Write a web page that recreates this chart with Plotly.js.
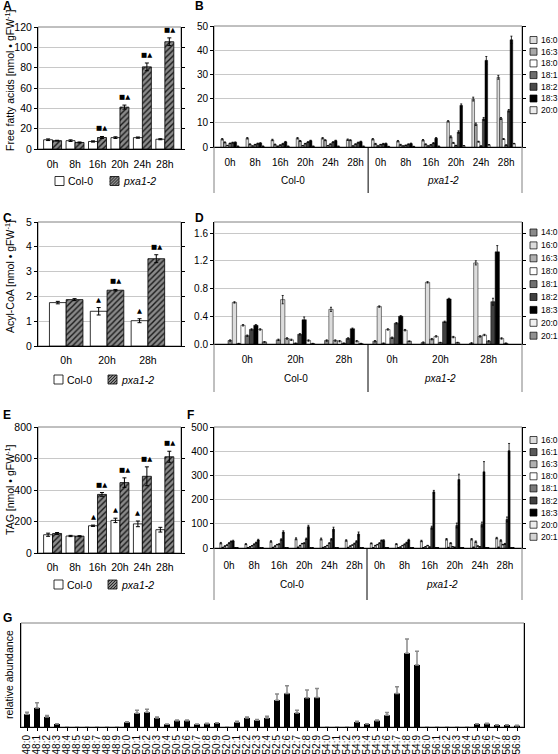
<!DOCTYPE html>
<html><head><meta charset="utf-8">
<script src="https://cdn.plot.ly/plotly-3.0.1.min.js"></script>
<style>html,body{margin:0;padding:0;background:#fff}#chart{width:558px;height:754px}</style>
</head><body><div id="chart"></div>
<script>
// ================= DATA =================
// Panel A: free fatty acids [nmol gFW-1]
const ffaTimes = ['0h', '8h', '16h', '20h', '24h', '28h'];
const ffaCol0 = [9.1, 8.2, 7.4, 11.2, 11.2, 9.6];
const ffaCol0Err = [0.8, 0.8, 0.6, 0.8, 0.6, 0.5];
const ffaPxa = [8.2, 6.4, 11.3, 41.2, 80.8, 105.5];
const ffaPxaErr = [0.4, 0.5, 1.0, 2.0, 3.8, 3.8];
const ffaCol0Sig = ['', '', '', '', '', ''];
const ffaPxaSig = ['', '', '■▲', '■▲', '■▲', '■▲'];

// Panel B: free fatty acid species
const genotypes = ['Col-0', 'pxa1-2'];
const ffaSpeciesTicks = ['0h', '8h', '16h', '20h', '24h', '28h', '0h', '8h', '16h', '20h', '24h', '28h'];
const ffaSpeciesNames = ['16:0', '16:3', '18:0', '18:1', '18:2', '18:3', '20:0'];
const ffaS16_0 = [3.2, 3.6, 2.9, 3.6, 3.6, 3.0, 3.2, 2.4, 2.8, 10.6, 19.8, 28.8];
const ffaS16_3 = [1.9, 1.1, 1.0, 2.5, 2.8, 2.8, 1.3, 0.9, 1.1, 4.2, 9.4, 11.8];
const ffaS18_0 = [0.6, 0.4, 0.3, 0.5, 0.5, 0.4, 0.4, 0.4, 0.4, 1.7, 2.2, 3.3];
const ffaS18_1 = [1.5, 1.0, 0.8, 1.4, 1.2, 1.2, 1.0, 0.7, 0.9, 0.6, 0.4, 0.8];
const ffaS18_2 = [1.8, 1.4, 1.3, 2.0, 2.0, 1.8, 1.3, 1.1, 1.6, 6.2, 11.6, 15.0];
const ffaS18_3 = [1.9, 1.6, 2.1, 2.6, 2.6, 2.2, 1.4, 1.4, 3.6, 17.2, 35.8, 44.3];
const ffaS20_0 = [0.3, 0.3, 0.3, 0.3, 0.3, 0.3, 0.2, 0.2, 0.3, 0.5, 0.9, 1.4];
const ffaS16_0Err = [0.3, 0.3, 0.3, 0.3, 0.3, 0.3, 0.3, 0.3, 0.3, 0.3, 0.8, 0.8];
const ffaS16_3Err = [0.2, 0.2, 0.2, 0.2, 0.2, 0.2, 0.2, 0.2, 0.2, 0.4, 0.5, 0.4];
const ffaS18_0Err = [0.1, 0.1, 0.1, 0.1, 0.1, 0.1, 0.1, 0.1, 0.1, 0.2, 0.2, 0.2];
const ffaS18_1Err = [0.1, 0.1, 0.1, 0.1, 0.1, 0.1, 0.1, 0.1, 0.1, 0.1, 0.1, 0.1];
const ffaS18_2Err = [0.2, 0.2, 0.2, 0.2, 0.2, 0.2, 0.2, 0.2, 0.2, 0.5, 0.6, 0.5];
const ffaS18_3Err = [0.2, 0.2, 0.2, 0.2, 0.2, 0.2, 0.2, 0.2, 0.3, 0.6, 1.6, 1.5];
const ffaS20_0Err = [0.1, 0.1, 0.1, 0.1, 0.1, 0.1, 0.1, 0.1, 0.1, 0.1, 0.1, 0.1];

// Panel C: acyl-CoA [nmol gFW-1]
const coaTimes = ['0h', '20h', '28h'];
const coaCol0 = [1.75, 1.40, 1.02];
const coaCol0Err = [0.05, 0.15, 0.08];
const coaPxa = [1.87, 2.25, 3.52];
const coaPxaErr = [0.04, 0.03, 0.16];
const coaCol0Sig = ['', '▲', '▲'];
const coaPxaSig = ['', '■▲', '■▲'];

// Panel D: acyl-CoA species
const coaSpeciesTicks = ['0h', '20h', '28h', '0h', '20h', '28h'];
const coaSpeciesNames = ['14:0', '16:0', '16:3', '18:0', '18:1', '18:2', '18:3', '20:0', '20:1'];
const coa14_0 = [0.05, 0.06, 0.05, 0.04, 0.02, 0.01];
const coa16_0 = [0.60, 0.64, 0.50, 0.54, 0.89, 1.17];
const coa16_3 = [0.005, 0.08, 0.05, 0.01, 0.07, 0.11];
const coa18_0 = [0.27, 0.06, 0.04, 0.21, 0.11, 0.13];
const coa18_1 = [0.12, 0.01, 0.01, 0.09, 0.02, 0.04];
const coa18_2 = [0.21, 0.14, 0.08, 0.30, 0.32, 0.61];
const coa18_3 = [0.27, 0.35, 0.22, 0.40, 0.65, 1.33];
const coa20_0 = [0.21, 0.05, 0.04, 0.20, 0.10, 0.08];
const coa20_1 = [0.03, 0.005, 0.005, 0.04, 0.02, 0.01];
const coa14_0Err = [0.01, 0.01, 0.01, 0.01, 0.01, 0.01];
const coa16_0Err = [0.01, 0.06, 0.03, 0.01, 0.01, 0.03];
const coa16_3Err = [0.005, 0.01, 0.01, 0.005, 0.01, 0.01];
const coa18_0Err = [0.01, 0.01, 0.01, 0.01, 0.01, 0.01];
const coa18_1Err = [0.01, 0.005, 0.005, 0.01, 0.005, 0.01];
const coa18_2Err = [0.01, 0.01, 0.01, 0.01, 0.01, 0.05];
const coa18_3Err = [0.01, 0.04, 0.01, 0.01, 0.01, 0.09];
const coa20_0Err = [0.01, 0.01, 0.01, 0.01, 0.01, 0.01];
const coa20_1Err = [0.005, 0.005, 0.005, 0.005, 0.005, 0.005];

// Panel E: TAG [nmol gFW-1]
const tagTimes = ['0h', '8h', '16h', '20h', '24h', '28h'];
const tagCol0 = [116, 108, 173, 207, 185, 148];
const tagCol0Err = [10, 4, 4, 14, 18, 15];
const tagPxa = [124, 107, 372, 447, 487, 611];
const tagPxaErr = [6, 3, 12, 30, 60, 35];
const tagCol0Sig = ['', '', '▲', '▲', '▲', ''];
const tagPxaSig = ['', '', '■▲', '■▲', '■▲', '■▲'];

// Panel F: TAG fatty acid species
const tagSpeciesTicks = ['0h', '8h', '16h', '20h', '24h', '28h', '0h', '8h', '16h', '20h', '24h', '28h'];
const tagSpeciesNames = ['16:0', '16:1', '16:3', '18:0', '18:1', '18:2', '18:3', '20:0', '20:1'];
const tag16_0 = [20, 16, 27, 38, 37, 31, 19, 16, 29, 36, 36, 41];
const tag16_1 = [2, 1, 2, 3, 2, 2, 1, 1, 1, 2, 3, 3];
const tag16_3 = [8, 5, 8, 10, 5, 8, 10, 4, 5, 20, 26, 31];
const tag18_0 = [12, 9, 14, 18, 10, 12, 14, 10, 10, 5, 8, 14];
const tag18_1 = [20, 15, 16, 20, 20, 18, 20, 15, 4, 3, 5, 17];
const tag18_2 = [27, 22, 35, 38, 36, 27, 31, 22, 84, 93, 97, 118];
const tag18_3 = [29, 33, 66, 88, 78, 58, 31, 33, 232, 283, 315, 402];
const tag20_0 = [1, 1, 1, 1, 1, 1, 1, 1, 1, 1, 1, 1];
const tag20_1 = [1, 1, 1, 1, 1, 1, 1, 1, 1, 1, 1, 1];
const tag16_0Err = [3, 2, 3, 4, 4, 3, 2, 2, 3, 3, 3, 3];
const tag16_1Err = [1, 1, 1, 1, 1, 1, 1, 1, 1, 1, 1, 1];
const tag16_3Err = [1, 1, 1, 1, 1, 1, 1, 1, 1, 2, 3, 3];
const tag18_0Err = [1, 1, 1, 1, 1, 1, 1, 1, 1, 1, 1, 1];
const tag18_1Err = [2, 2, 2, 2, 2, 2, 2, 2, 1, 1, 1, 2];
const tag18_2Err = [2, 2, 3, 3, 3, 3, 2, 2, 6, 10, 10, 10];
const tag18_3Err = [3, 3, 5, 6, 8, 8, 3, 3, 6, 22, 42, 30];
const tag20_0Err = [1, 1, 1, 1, 1, 1, 1, 1, 1, 1, 1, 1];
const tag20_1Err = [1, 1, 1, 1, 1, 1, 1, 1, 1, 1, 1, 1];

// Panel G: TAG molecular species, relative abundance
const tagMolLabels = ['48:0', '48:1', '48:2', '48:3', '48:4', '48:5', '48:6', '48:7', '48:8', '48:9',
  '50:0', '50:1', '50:2', '50:3', '50:4', '50:5', '50:6', '50:7', '50:8', '50:9',
  '52:0', '52:1', '52:2', '52:3', '52:4', '52:5', '52:6', '52:7', '52:8', '52:9',
  '54:0', '54:1', '54:2', '54:3', '54:4', '54:5', '54:6', '54:7', '54:8', '54:9',
  '56:0', '56:1', '56:2', '56:3', '56:4', '56:5', '56:6', '56:7', '56:8', '56:9'];
const tagMolValues = [38, 57, 30, 9, 0, 0, 0, 0, 0, 0,
  14, 41, 44, 27, 8, 19, 19, 8, 10, 12,
  0, 14, 27, 20, 27, 80, 100, 42, 87, 88,
  0, 0, 0, 15, 9, 19, 35, 100, 220, 185,
  0, 0, 0, 0, 0, 9, 10, 6, 6, 4];
const tagMolErr = [6, 15, 4, 1, 0, 0, 0, 0, 0, 0,
  2, 9, 9, 3, 1, 2, 2, 1, 1, 1,
  0, 3, 3, 2, 5, 18, 23, 8, 23, 27,
  0, 0, 0, 2, 1, 2, 8, 20, 42, 41,
  0, 0, 0, 0, 0, 1, 1, 1, 1, 1];

// ================= STYLE / LAYOUT =================
const W = 558, H = 754;
const PX = x => x / W;
const PY = y => 1 - y / H;
const FONT = '"Liberation Sans", Arial, Helvetica, sans-serif';
const SYMFONT = '"DejaVu Sans", sans-serif';
const GRID = '#c8c8c8';
const HATCH_BG = '#8a8a8a', HATCH_FG = '#1a1a1a';
const idx = arr => arr.map((_, i) => i);

const ffaColors = {'16:0': '#dcdcdc', '16:3': '#a8a8a8', '18:0': '#ffffff', '18:1': '#6e6e6e', '18:2': '#4a4a4a', '18:3': '#000000', '20:0': '#ececec'};
const coaColors = {'14:0': '#8a8a8a', '16:0': '#dcdcdc', '16:3': '#b0b0b0', '18:0': '#ffffff', '18:1': '#707070', '18:2': '#404040', '18:3': '#000000', '20:0': '#f0f0f0', '20:1': '#909090'};
const tagColors = {'16:0': '#dcdcdc', '16:1': '#5a5a5a', '16:3': '#b0b0b0', '18:0': '#ffffff', '18:1': '#7a7a7a', '18:2': '#404040', '18:3': '#000000', '20:0': '#ececec', '20:1': '#d4d4d4'};

const data = [], annotations = [], shapes = [];
const layout = {
  width: W, height: H, margin: {l: 0, r: 0, t: 0, b: 0},
  paper_bgcolor: '#ffffff', plot_bgcolor: 'rgba(0,0,0,0)',
  showlegend: false, barmode: 'group',
  font: {family: FONT, size: 10, color: '#000'},
  annotations: annotations, shapes: shapes
};

function setupAxes(n, box, xr, yr, o) {
  const xi = n === 1 ? 'x' : 'x' + n, yi = n === 1 ? 'y' : 'y' + n;
  const xk = n === 1 ? 'xaxis' : 'xaxis' + n, yk = n === 1 ? 'yaxis' : 'yaxis' + n;
  layout[xk] = {
    domain: [PX(box.l), PX(box.r)], anchor: yi, range: xr, type: 'linear',
    showgrid: false, zeroline: false, showline: true, linecolor: '#000', linewidth: 1,
    tickmode: 'array', tickvals: o.tickvals, ticktext: o.ticktext,
    ticks: o.xticks || '', ticklen: 3, tickcolor: '#000',
    tickangle: o.tickangle !== undefined ? o.tickangle : 0,
    ticklabelstandoff: o.standoff || 0,
    tickfont: {family: FONT, size: o.xfont || 10, color: '#000'},
    fixedrange: true
  };
  layout[yk] = {
    domain: [PY(box.b), PY(box.t)], anchor: xi, range: yr, type: 'linear',
    showgrid: o.grid !== false, gridcolor: GRID, gridwidth: 1, zeroline: false,
    showline: true, linecolor: '#000', linewidth: 1, mirror: o.ymirror || 'ticks',
    ticks: o.yticks !== undefined ? o.yticks : 'outside', ticklen: 3, tickcolor: '#000',
    tick0: 0, dtick: o.dtick, tickformat: o.tickformat || '',
    showticklabels: o.showyl !== false,
    tickfont: {family: FONT, size: o.yfont || 10, color: '#000'},
    fixedrange: true
  };
  shapes.push({type: 'rect', xref: xi + ' domain', yref: yi + ' domain', x0: 0, x1: 1, y0: 0, y1: 1,
    line: {color: '#808080', width: 1}, fillcolor: 'rgba(0,0,0,0)', layer: 'below'});
  return [xi, yi];
}

function letter(t, x, y) {
  annotations.push({xref: 'paper', yref: 'paper', x: PX(x), y: PY(y), xanchor: 'left', yanchor: 'middle',
    text: '<b>' + t + '</b>', showarrow: false, font: {family: FONT, size: 12, color: '#000'}});
}
function ytitle(t, x, y, size) {
  annotations.push({xref: 'paper', yref: 'paper', x: PX(x), y: PY(y), xanchor: 'center', yanchor: 'middle',
    textangle: -90, text: t, showarrow: false, font: {family: FONT, size: size || 10.5, color: '#000'}});
}
function hatchBox(l, t, r, b) {
  shapes.push({type: 'rect', xref: 'paper', yref: 'paper', x0: PX(l), x1: PX(r), y0: PY(b), y1: PY(t),
    fillcolor: HATCH_BG, line: {color: '#000', width: 0.8}});
  let p = '';
  for (let k = l + t + 2; k < r + b; k += 3) {
    const yLo = Math.max(t, k - r), yHi = Math.min(b, k - l);
    if (yHi <= yLo) continue;
    p += 'M' + PX(k - yLo) + ',' + PY(yLo) + 'L' + PX(k - yHi) + ',' + PY(yHi);
  }
  shapes.push({type: 'path', xref: 'paper', yref: 'paper', path: p, line: {color: HATCH_FG, width: 0.9}});
}

function pairPanel(n, c) {
  const [xi, yi] = setupAxes(n, c.box, c.xr, c.yr, {tickvals: idx(c.times), ticktext: c.times, dtick: c.dtick,
    standoff: c.standoff, xfont: 10.5, yfont: 10.5});
  const bw = c.bw, xs = idx(c.times);
  data.push({type: 'bar', name: genotypes[0], x: xs, y: c.col, xaxis: xi, yaxis: yi, width: bw, offset: -bw,
    marker: {color: '#ffffff', line: {color: '#000', width: 0.8}},
    error_y: {type: 'data', array: c.colErr, color: '#000', thickness: 1, width: 2}, hoverinfo: 'skip'});
  data.push({type: 'bar', name: genotypes[1], x: xs, y: c.pxa, xaxis: xi, yaxis: yi, width: bw, offset: 0,
    marker: {color: HATCH_BG, pattern: {shape: '/', bgcolor: HATCH_BG, fgcolor: HATCH_FG, fgopacity: 1, fillmode: 'replace', size: 4, solidity: 0.35},
      line: {color: '#000', width: 0.8}},
    error_y: {type: 'data', array: c.pxaErr, color: '#000', thickness: 1, width: 2}, hoverinfo: 'skip'});
  const sig = (x, y, t) => annotations.push({xref: xi, yref: yi, x: x, y: y, yanchor: 'bottom', yshift: 2,
    text: t, showarrow: false, font: {family: SYMFONT, size: 6.5, color: '#000'}});
  xs.forEach((x, i) => {
    if (c.colSig[i]) sig(x - bw / 2, c.col[i] + c.colErr[i], c.colSig[i]);
    if (c.pxaSig[i]) sig(x + bw / 2, c.pxa[i] + c.pxaErr[i], c.pxaSig[i]);
  });
  // legend
  const ly = c.legY;
  shapes.push({type: 'rect', xref: 'paper', yref: 'paper', x0: PX(c.legX[0]), x1: PX(c.legX[0] + 9), y0: PY(ly + 4.5), y1: PY(ly - 4.5),
    fillcolor: '#ffffff', line: {color: '#000', width: 0.8}});
  hatchBox(c.legX[1], ly - 4.5, c.legX[1] + 9, ly + 4.5);
  annotations.push({xref: 'paper', yref: 'paper', x: PX(c.legX[0] + 11), y: PY(ly), xanchor: 'left', yanchor: 'middle',
    text: genotypes[0], showarrow: false, font: {family: FONT, size: 10.5, color: '#000'}});
  annotations.push({xref: 'paper', yref: 'paper', x: PX(c.legX[1] + 11), y: PY(ly), xanchor: 'left', yanchor: 'middle',
    text: '<i>' + genotypes[1] + '</i>', showarrow: false, font: {family: FONT, size: 10.5, color: '#000'}});
}

function multiPanel(n, c) {
  const [xi, yi] = setupAxes(n, c.box, c.xr, c.yr, {tickvals: idx(c.ticks), ticktext: c.ticks, dtick: c.dtick,
    tickformat: c.tickformat, standoff: c.standoff, xfont: 10, yfont: 10});
  const m = c.names.length, w = c.groupW / m, xs = idx(c.ticks);
  c.names.forEach((nm, j) => {
    data.push({type: 'bar', name: nm, x: xs, y: c.values[j], xaxis: xi, yaxis: yi, width: w, offset: -c.groupW / 2 + j * w,
      marker: {color: c.colors[nm], line: {color: '#000', width: 0.5}},
      error_y: {type: 'data', array: c.errs[j], color: '#000', thickness: 0.8, width: 1}, hoverinfo: 'skip'});
    const yc = c.legY0 + j * c.legStep;
    shapes.push({type: 'rect', xref: 'paper', yref: 'paper', x0: PX(530), x1: PX(537), y0: PY(yc + 3.5), y1: PY(yc - 3.5),
      fillcolor: c.colors[nm], line: {color: '#000', width: 0.7}});
    annotations.push({xref: 'paper', yref: 'paper', x: PX(539), y: PY(yc), xanchor: 'left', yanchor: 'middle',
      text: nm, showarrow: false, font: {family: FONT, size: 8.5, color: '#000'}});
  });
  // genotype group labels, centred under each half of the axis
  const nPer = c.ticks.length / 2;
  const toPaperX = v => PX(c.box.l + (v - c.xr[0]) / (c.xr[1] - c.xr[0]) * (c.box.r - c.box.l));
  genotypes.forEach((g, k) => annotations.push({xref: 'paper', yref: 'paper', x: toPaperX(k * nPer + (nPer - 1) / 2), y: PY(c.groupY),
    xanchor: 'center', yanchor: 'middle', text: k === 1 ? '<i>' + g + '</i>' : g, showarrow: false,
    font: {family: FONT, size: 10, color: '#000'}}));
  [0, 1].forEach(e => shapes.push({type: 'line', xref: xi + ' domain', yref: 'paper', x0: e, x1: e,
    y0: PY(c.box.b), y1: PY(c.frameBottom), line: {color: '#808080', width: 1}}));
  shapes.push({type: 'line', xref: xi, yref: 'paper', x0: nPer - 0.5, x1: nPer - 0.5,
    y0: PY(c.box.b), y1: PY(c.frameBottom), line: {color: '#000', width: 1}});
}

// ---- Panel A
pairPanel(1, {box: {l: 38, r: 181, t: 27, b: 149}, xr: [-0.65, 5.72], yr: [0, 120], dtick: 20, bw: 0.4, standoff: 5,
  times: ffaTimes, col: ffaCol0, colErr: ffaCol0Err, pxa: ffaPxa, pxaErr: ffaPxaErr, colSig: ffaCol0Sig, pxaSig: ffaPxaSig,
  legY: 181, legX: [55, 110]});
ytitle('Free fatty acids [nmol • gFW<sup>-1</sup>]', 9, 80);
// ---- Panel B
multiPanel(2, {box: {l: 214, r: 522, t: 26, b: 147}, xr: [-0.64, 11.63], yr: [0, 50], dtick: 10, standoff: 6,
  ticks: ffaSpeciesTicks, names: ffaSpeciesNames, colors: ffaColors, groupW: 0.73,
  values: [ffaS16_0, ffaS16_3, ffaS18_0, ffaS18_1, ffaS18_2, ffaS18_3, ffaS20_0],
  errs: [ffaS16_0Err, ffaS16_3Err, ffaS18_0Err, ffaS18_1Err, ffaS18_2Err, ffaS18_3Err, ffaS20_0Err],
  legY0: 40, legStep: 11.7, groupY: 181, frameBottom: 193});
// ---- Panel C
pairPanel(3, {box: {l: 38, r: 181, t: 222, b: 346}, xr: [-0.69, 2.81], yr: [0, 5], dtick: 1, bw: 0.41, standoff: 4,
  times: coaTimes, col: coaCol0, colErr: coaCol0Err, pxa: coaPxa, pxaErr: coaPxaErr, colSig: coaCol0Sig, pxaSig: coaPxaSig,
  legY: 379.5, legX: [54, 108]});
ytitle('Acyl-CoA [nmol • gFW<sup>-1</sup>]', 9, 277);
// ---- Panel D
multiPanel(4, {box: {l: 214, r: 522, t: 222, b: 344}, xr: [-0.69, 5.69], yr: [0, 1.76], dtick: 0.4, tickformat: '.1f', standoff: 6,
  ticks: coaSpeciesTicks, names: coaSpeciesNames, colors: coaColors, groupW: 0.8,
  values: [coa14_0, coa16_0, coa16_3, coa18_0, coa18_1, coa18_2, coa18_3, coa20_0, coa20_1],
  errs: [coa14_0Err, coa16_0Err, coa16_3Err, coa18_0Err, coa18_1Err, coa18_2Err, coa18_3Err, coa20_0Err, coa20_1Err],
  legY0: 232.5, legStep: 12.9, groupY: 378, frameBottom: 392});
// ---- Panel E
pairPanel(5, {box: {l: 38, r: 181, t: 427, b: 553}, xr: [-0.65, 5.72], yr: [0, 800], dtick: 200, bw: 0.4, standoff: 4,
  times: tagTimes, col: tagCol0, colErr: tagCol0Err, pxa: tagPxa, pxaErr: tagPxaErr, colSig: tagCol0Sig, pxaSig: tagPxaSig,
  legY: 584.5, legX: [54, 108]});
ytitle('TAG [nmol • gFW<sup>-1</sup>]', 9, 490);
// ---- Panel F
multiPanel(6, {box: {l: 214, r: 522, t: 427, b: 548}, xr: [-0.6, 11.68], yr: [0, 500], dtick: 100, standoff: 8,
  ticks: tagSpeciesTicks, names: tagSpeciesNames, colors: tagColors, groupW: 0.74,
  values: [tag16_0, tag16_1, tag16_3, tag18_0, tag18_1, tag18_2, tag18_3, tag20_0, tag20_1],
  errs: [tag16_0Err, tag16_1Err, tag16_3Err, tag18_0Err, tag18_1Err, tag18_2Err, tag18_3Err, tag20_0Err, tag20_1Err],
  legY0: 440, legStep: 12.1, groupY: 584, frameBottom: 600});
// ---- Panel G
(function () {
  const [xi, yi] = setupAxes(7, {l: 21, r: 524, t: 623, b: 727}, [-0.6, 49.7], [0, 310],
    {tickvals: idx(tagMolLabels), ticktext: tagMolLabels, xticks: 'outside', tickangle: -90, grid: false,
     yticks: '', showyl: false, ymirror: true, xfont: 10, standoff: 0});
  data.push({type: 'bar', name: 'TAG species', x: idx(tagMolLabels), y: tagMolValues, xaxis: xi, yaxis: yi,
    width: 0.6, offset: -0.3, marker: {color: '#000000'},
    error_y: {type: 'data', symmetric: false, array: tagMolErr, arrayminus: tagMolErr.map(() => 0),
      color: '#8a8a8a', thickness: 1.5, width: 2}, hoverinfo: 'skip'});
})();
ytitle('relative abundance', 9, 675);

letter('A', 1, 6); letter('B', 193, 6);
letter('C', 1, 218); letter('D', 193, 218);
letter('E', 1, 415); letter('F', 185, 415);
letter('G', 1, 618);

Plotly.newPlot('chart', data, layout, {displayModeBar: false, staticPlot: true});
</script>
</body></html>
